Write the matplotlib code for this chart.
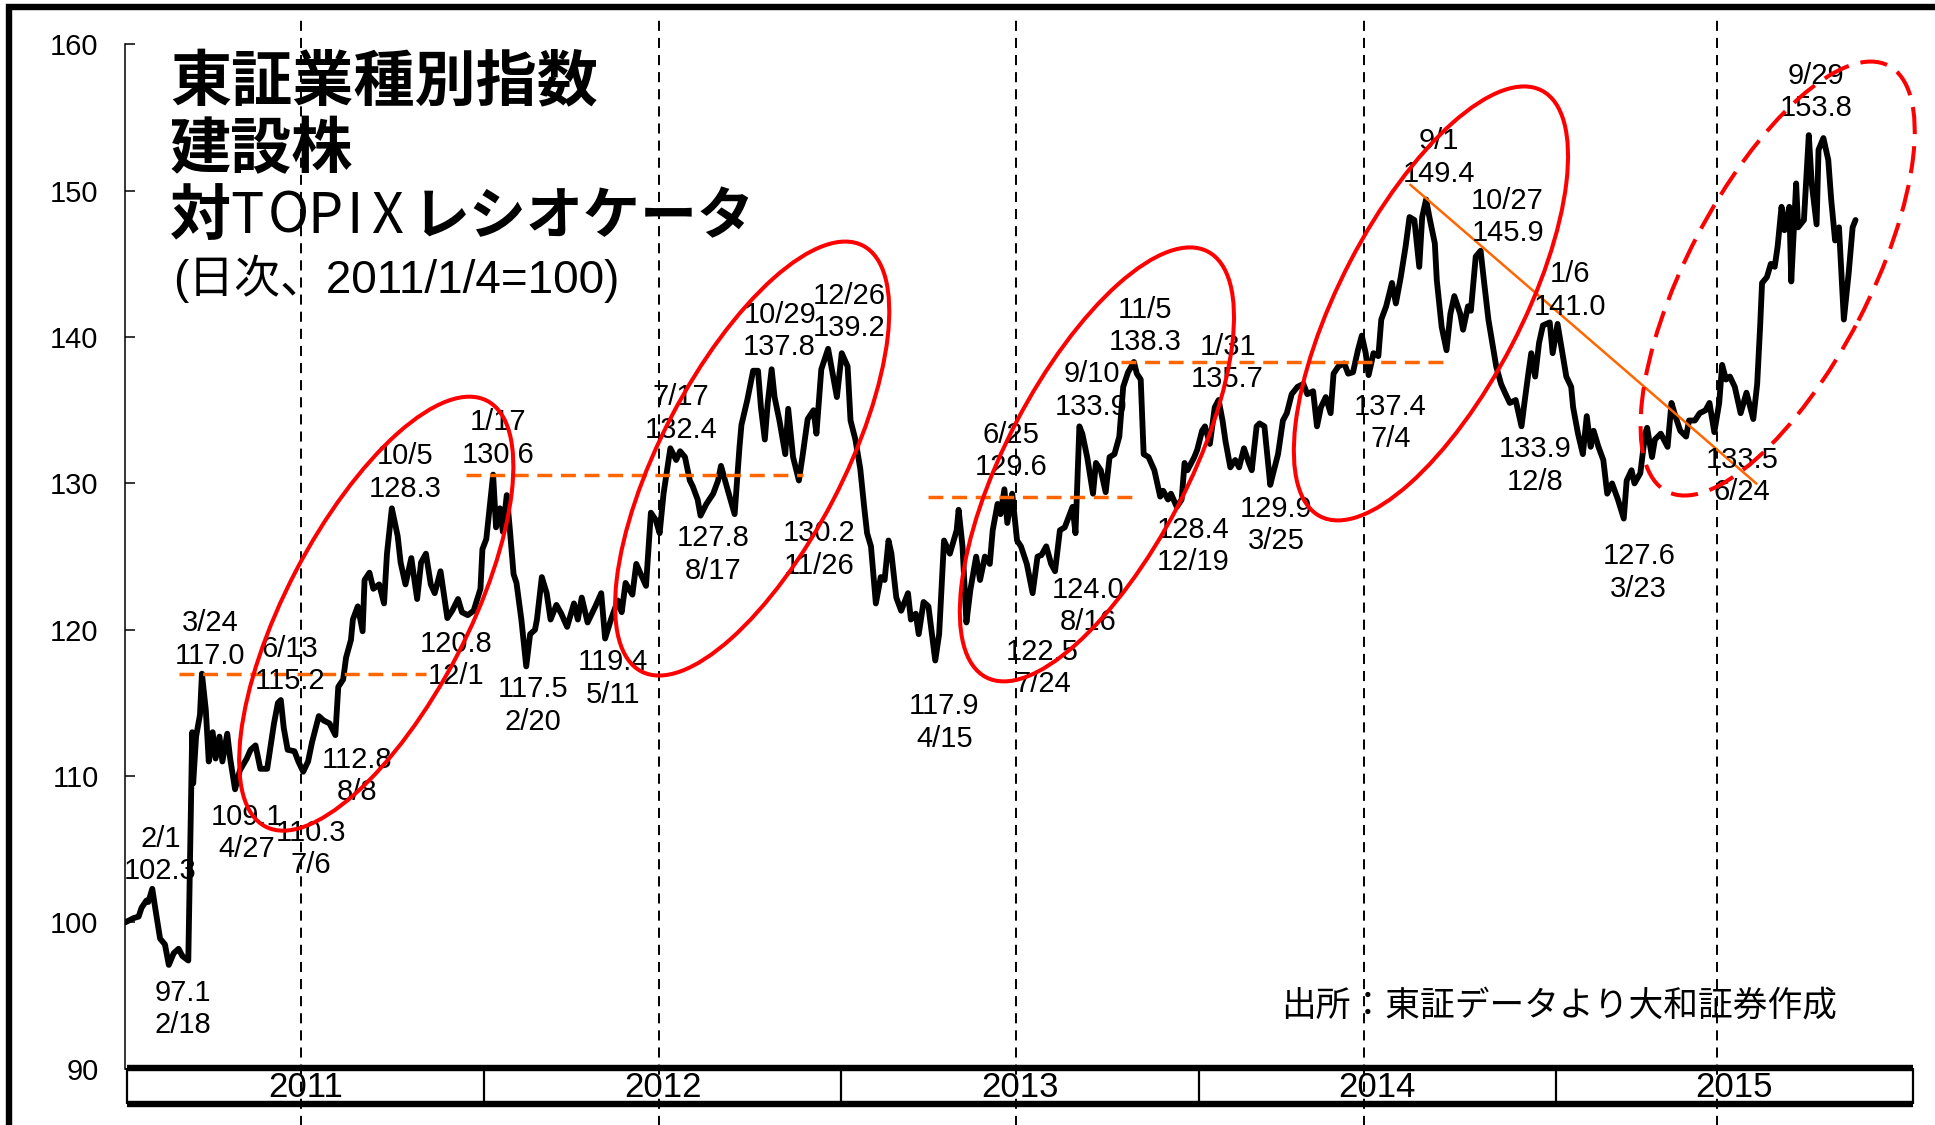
import matplotlib
matplotlib.use("Agg")
import matplotlib.pyplot as plt
import matplotlib.dates as mdates
from matplotlib.patches import Ellipse, Rectangle
from matplotlib.transforms import ScaledTranslation
import pandas as pd

W, H, DPI = 1935, 1125, 100

plt.rcParams['font.family'] = ['Liberation Sans', 'Noto Sans CJK JP', 'DejaVu Sans']

# ---------------------------------------------------------------------------
# Construction sector index relative to TOPIX (2011/1/4 = 100)
# ---------------------------------------------------------------------------
dates = [
    "2011-01-04", "2011-01-13", "2011-01-18", "2011-01-21", "2011-01-26", "2011-01-28",
    "2011-02-01", "2011-02-04", "2011-02-09", "2011-02-14", "2011-02-18", "2011-02-23",
    "2011-02-28", "2011-03-04", "2011-03-10", "2011-03-14", "2011-03-15", "2011-03-18",
    "2011-03-22", "2011-03-24", "2011-03-28", "2011-03-31", "2011-04-04", "2011-04-07",
    "2011-04-11", "2011-04-14", "2011-04-19", "2011-04-22", "2011-04-27", "2011-05-02",
    "2011-05-09", "2011-05-13", "2011-05-18", "2011-05-23", "2011-05-30", "2011-06-06",
    "2011-06-10", "2011-06-13", "2011-06-16", "2011-06-20", "2011-06-27", "2011-07-01",
    "2011-07-06", "2011-07-11", "2011-07-15", "2011-07-22", "2011-07-27", "2011-08-02",
    "2011-08-08", "2011-08-11", "2011-08-16", "2011-08-19", "2011-08-24", "2011-08-26",
    "2011-08-31", "2011-09-05", "2011-09-07", "2011-09-12", "2011-09-16", "2011-09-22",
    "2011-09-27", "2011-09-30", "2011-10-05", "2011-10-11", "2011-10-14", "2011-10-19",
    "2011-10-25", "2011-10-31", "2011-11-04", "2011-11-09", "2011-11-14", "2011-11-18",
    "2011-11-24", "2011-12-01", "2011-12-06", "2011-12-12", "2011-12-16", "2011-12-22",
    "2011-12-28",
    "2012-01-04", "2012-01-06", "2012-01-10", "2012-01-17", "2012-01-20", "2012-01-24",
    "2012-01-27", "2012-01-31", "2012-02-03", "2012-02-07", "2012-02-10", "2012-02-15",
    "2012-02-20", "2012-02-24", "2012-02-29", "2012-03-02", "2012-03-07", "2012-03-12",
    "2012-03-16", "2012-03-22", "2012-03-27", "2012-04-02", "2012-04-09", "2012-04-13",
    "2012-04-17", "2012-04-23", "2012-05-01", "2012-05-07", "2012-05-11", "2012-05-17",
    "2012-05-24", "2012-05-28", "2012-06-01", "2012-06-08", "2012-06-12", "2012-06-18",
    "2012-06-22", "2012-06-27", "2012-07-02", "2012-07-06", "2012-07-10", "2012-07-17",
    "2012-07-23", "2012-07-27", "2012-08-01", "2012-08-06", "2012-08-09", "2012-08-14",
    "2012-08-17", "2012-08-23", "2012-08-30", "2012-09-04", "2012-09-07", "2012-09-12",
    "2012-09-21", "2012-09-26", "2012-09-28", "2012-10-04", "2012-10-10", "2012-10-15",
    "2012-10-18", "2012-10-22", "2012-10-25", "2012-10-29", "2012-11-01", "2012-11-06",
    "2012-11-12", "2012-11-15", "2012-11-20", "2012-11-26", "2012-11-30", "2012-12-05",
    "2012-12-11", "2012-12-14", "2012-12-19", "2012-12-26",
    "2013-01-04", "2013-01-09", "2013-01-15", "2013-01-18", "2013-01-23", "2013-01-28",
    "2013-02-01", "2013-02-04", "2013-02-08", "2013-02-13", "2013-02-18", "2013-02-22",
    "2013-02-26", "2013-03-01", "2013-03-06", "2013-03-11", "2013-03-18", "2013-03-21",
    "2013-03-26", "2013-03-29", "2013-04-03", "2013-04-08", "2013-04-15", "2013-04-19",
    "2013-04-24", "2013-04-30", "2013-05-07", "2013-05-09", "2013-05-13", "2013-05-17",
    "2013-05-21", "2013-05-27", "2013-05-31", "2013-06-05", "2013-06-10", "2013-06-13",
    "2013-06-18", "2013-06-21", "2013-06-25", "2013-06-28", "2013-07-03", "2013-07-08",
    "2013-07-12", "2013-07-18", "2013-07-24", "2013-07-29", "2013-08-02", "2013-08-07",
    "2013-08-12", "2013-08-16", "2013-08-21", "2013-08-26", "2013-08-30", "2013-09-03",
    "2013-09-06", "2013-09-10", "2013-09-13", "2013-09-18", "2013-09-24", "2013-09-27",
    "2013-10-02", "2013-10-07", "2013-10-11", "2013-10-16", "2013-10-21", "2013-10-25",
    "2013-10-30", "2013-11-05", "2013-11-08", "2013-11-12", "2013-11-15", "2013-11-20",
    "2013-11-26", "2013-12-02", "2013-12-05", "2013-12-10", "2013-12-13", "2013-12-19",
    "2013-12-24", "2013-12-27", "2013-12-30",
    "2014-01-06", "2014-01-09", "2014-01-14", "2014-01-17", "2014-01-22", "2014-01-27",
    "2014-01-31", "2014-02-04", "2014-02-07", "2014-02-12", "2014-02-17", "2014-02-21",
    "2014-02-26", "2014-03-03", "2014-03-06", "2014-03-11", "2014-03-14", "2014-03-19",
    "2014-03-25", "2014-03-28", "2014-04-02", "2014-04-07", "2014-04-11", "2014-04-16",
    "2014-04-22", "2014-04-28", "2014-05-02", "2014-05-08", "2014-05-12", "2014-05-16",
    "2014-05-21", "2014-05-26", "2014-05-29", "2014-06-03", "2014-06-09", "2014-06-13",
    "2014-06-18", "2014-06-23", "2014-06-27", "2014-07-01", "2014-07-04", "2014-07-09",
    "2014-07-14", "2014-07-17", "2014-07-22", "2014-07-28", "2014-08-01", "2014-08-06",
    "2014-08-11", "2014-08-15", "2014-08-20", "2014-08-25", "2014-08-28", "2014-09-01",
    "2014-09-05", "2014-09-10", "2014-09-12", "2014-09-17", "2014-09-22", "2014-09-26",
    "2014-09-30", "2014-10-06", "2014-10-09", "2014-10-14", "2014-10-17", "2014-10-22",
    "2014-10-27", "2014-10-30", "2014-11-04", "2014-11-07", "2014-11-12", "2014-11-17",
    "2014-11-21", "2014-11-26", "2014-12-02", "2014-12-08", "2014-12-11", "2014-12-15",
    "2014-12-18", "2014-12-22", "2014-12-26", "2014-12-30",
    "2015-01-06", "2015-01-09", "2015-01-14", "2015-01-19", "2015-01-23", "2015-01-28",
    "2015-01-30", "2015-02-04", "2015-02-09", "2015-02-13", "2015-02-17", "2015-02-20",
    "2015-02-25", "2015-03-02", "2015-03-06", "2015-03-11", "2015-03-17", "2015-03-23",
    "2015-03-26", "2015-03-31", "2015-04-03", "2015-04-09", "2015-04-14", "2015-04-16",
    "2015-04-21", "2015-04-24", "2015-04-30", "2015-05-07", "2015-05-11", "2015-05-15",
    "2015-05-20", "2015-05-26", "2015-05-29", "2015-06-04", "2015-06-09", "2015-06-15",
    "2015-06-19", "2015-06-24", "2015-06-29", "2015-07-02", "2015-07-06", "2015-07-10",
    "2015-07-15", "2015-07-21", "2015-07-27", "2015-08-03", "2015-08-07", "2015-08-10",
    "2015-08-12", "2015-08-17", "2015-08-21", "2015-08-25", "2015-08-28", "2015-09-01",
    "2015-09-04", "2015-09-09", "2015-09-11", "2015-09-16", "2015-09-18", "2015-09-24",
    "2015-09-29", "2015-10-02", "2015-10-07", "2015-10-09", "2015-10-14", "2015-10-19",
    "2015-10-22", "2015-10-26", "2015-10-30", "2015-11-04", "2015-11-09", "2015-11-13",
    "2015-11-16",
]

ratio = [
    100.0, 100.3, 100.4, 101.0, 101.5, 101.4,
    102.3, 101.0, 98.9, 98.5, 97.1, 97.9,
    98.2, 97.7, 97.4, 113.0, 109.5, 112.7,
    114.2, 117.0, 114.5, 111.0, 113.0, 111.2,
    112.7, 111.0, 112.9, 111.2, 109.1, 110.4,
    111.2, 111.8, 112.1, 110.5, 110.5, 113.6,
    115.0, 115.2, 113.3, 111.8, 111.7, 111.0,
    110.3, 111.0, 112.3, 114.1, 113.8, 113.6,
    112.8, 116.1, 116.6, 118.1, 119.3, 120.7,
    121.6, 119.9, 123.4, 123.9, 122.8, 123.1,
    121.8, 125.2, 128.3, 126.4, 124.6, 123.1,
    124.9, 122.1, 124.6, 125.2, 123.1, 122.5,
    124.0, 120.8, 121.3, 122.1, 121.2, 121.0,
    121.3,
    122.8, 125.5, 126.2, 130.6, 127.0, 128.3,
    126.7, 129.2, 127.0, 123.8, 123.2, 120.7,
    117.5, 119.7, 120.0, 120.7, 123.6, 122.5,
    120.7, 121.7, 121.1, 120.2, 121.8, 120.7,
    122.2, 120.5, 121.6, 122.5, 119.4, 120.7,
    122.0, 121.2, 123.2, 122.4, 124.5, 123.6,
    123.0, 128.0, 127.5, 126.6, 129.3, 132.4,
    131.6, 132.2, 131.8, 130.2, 129.8, 128.9,
    127.8, 128.6, 129.3, 130.2, 131.2, 130.0,
    127.9, 132.5, 134.0, 135.7, 137.7, 137.7,
    135.2, 133.0, 135.5, 137.8, 135.9, 134.3,
    132.0, 135.1, 131.8, 130.2, 132.0, 134.4,
    135.0, 133.4, 137.8, 139.2,
    135.9, 138.9, 138.0, 134.3, 133.0, 131.0,
    128.4, 126.6, 125.7, 121.8, 123.6, 123.4,
    126.1, 125.2, 122.2, 121.3, 122.5, 120.7,
    121.1, 119.7, 121.9, 121.6, 117.9, 119.7,
    126.1, 125.2, 126.8, 128.2, 125.7, 120.5,
    122.7, 125.0, 123.4, 125.0, 124.5, 126.8,
    128.6, 127.9, 129.6, 127.3, 129.3, 126.1,
    125.7, 124.5, 122.5, 125.0, 125.1, 125.7,
    124.5, 124.0, 126.8, 127.0, 127.7, 128.4,
    126.6, 133.9, 133.4, 131.8, 129.3, 131.4,
    130.9, 129.4, 131.8, 132.0, 133.2, 136.6,
    137.6, 138.3, 137.5, 137.1, 132.0, 131.8,
    130.9, 129.1, 129.5, 128.9, 129.3, 128.4,
    128.9, 131.4, 130.9,
    131.8, 132.3, 133.6, 133.9, 132.7, 135.2,
    135.7, 134.3, 132.9, 131.1, 131.6, 131.1,
    132.4, 131.4, 130.9, 133.9, 134.1, 133.9,
    129.9, 130.7, 132.0, 134.3, 134.8, 136.1,
    136.6, 136.8, 136.1, 136.3, 133.9, 135.2,
    135.9, 134.8, 137.5, 138.0, 138.2, 137.5,
    137.6, 139.1, 140.1, 138.9, 137.4, 138.9,
    138.7, 141.2, 142.1, 143.7, 142.3, 144.1,
    146.2, 148.2, 148.0, 144.8, 148.2, 149.4,
    148.0, 146.4, 143.9, 140.7, 139.1, 141.6,
    142.8, 141.6, 140.5, 142.1, 141.8, 145.5,
    145.9, 144.1, 141.2, 140.0, 138.0, 136.8,
    136.2, 135.5, 135.7, 133.9, 135.5, 137.5,
    138.9, 137.3, 139.6, 140.8,
    141.0, 138.9, 140.9, 138.9, 137.3, 136.6,
    135.2, 133.4, 132.0, 134.6, 132.5, 133.6,
    132.5, 131.6, 129.3, 130.0, 128.9, 127.6,
    130.2, 130.9, 130.0, 130.7, 133.4, 133.8,
    131.8, 133.0, 133.4, 132.5, 135.5, 134.6,
    133.6, 133.2, 134.3, 134.3, 134.8, 135.0,
    135.5, 133.5, 135.5, 138.1, 137.1, 137.3,
    136.6, 134.8, 136.2, 134.4, 136.8, 140.7,
    143.7, 144.1, 145.0, 144.8, 146.2, 148.9,
    147.3, 148.9, 143.8, 150.5, 147.5, 148.0,
    153.8, 150.5, 147.7, 152.8, 153.6, 152.1,
    149.4, 146.6, 147.5, 141.2, 144.4, 147.5,
    148.0,
]

# Turning points annotated with date and value ("hi" = text above, "lo" = below)
note_dates = [
    "2011-02-01", "2011-02-18", "2011-03-24", "2011-04-27", "2011-06-13", "2011-07-06",
    "2011-08-08", "2011-10-05", "2011-12-01", "2012-01-17", "2012-02-20", "2012-05-11",
    "2012-07-17", "2012-08-17", "2012-10-29", "2012-11-26", "2012-12-26", "2013-04-15",
    "2013-06-25", "2013-07-24", "2013-08-16", "2013-09-10", "2013-11-05", "2013-12-19",
    "2014-01-31", "2014-03-25", "2014-07-04", "2014-09-01", "2014-10-27", "2014-12-08",
    "2015-01-06", "2015-03-23", "2015-06-24", "2015-09-29",
]
note_side = [
    "hi", "lo", "hi", "lo", "hi", "lo",
    "lo", "hi", "lo", "hi", "lo", "lo",
    "hi", "lo", "hi", "lo", "hi", "lo",
    "hi", "lo", "lo", "hi", "hi", "lo",
    "hi", "lo", "lo", "hi", "hi", "lo",
    "hi", "lo", "lo", "hi",
]
# text-block centre relative to the point, in pixels (right, down)
note_offsets = [
    (8, -34), (14, 44), (8, -34), (12, 44), (9, -35), (8, 77),
    (22, 41), (13, -36), (9, 42), (5, -36), (7, 39), (8, 40),
    (11, -35), (13, 39), (8, -38), (20, 69), (21, -37), (9, 62),
    (7, -38), (10, 75), (33, 35), (12, -36), (11, -36), (16, 39),
    (9, -37), (6, 40), (22, 48), (13, -42), (27, -34), (14, 39),
    (20, -32), (15, 54), (28, 44), (7, -43),
]

years = ["2011", "2012", "2013", "2014", "2015"]
y_ticks = [90, 100, 110, 120, 130, 140, 150, 160]

# horizontal support levels (orange dashed)
support_level = [117.0, 130.6, 129.1, 138.3]
support_from = ["2011-02-28", "2011-12-20", "2013-04-08", "2013-10-23"]
support_to = ["2011-11-09", "2012-11-30", "2013-11-07", "2014-09-23"]

# falling trend line from the 2014 peak
trend_dates = ["2014-08-16", "2015-08-06"]
trend_values = [150.4, 130.0]

# mid-year separators
mid_year = ["2011-07-04", "2012-07-05", "2013-07-07", "2014-06-29", "2015-06-27"]

# highlighted up-trend zones: centre (date, value); last one still in progress
zone_dates = ["2011-09-19", "2012-10-09", "2013-09-28", "2014-09-06", "2015-08-28"]
zone_values = [121.1, 131.7, 131.3, 142.3, 144.0]
zone_dashed = [False, False, False, False, True]

ORANGE = "#FF6600"
RED = "#FF0000"


def fx(px):
    return px / W


def fy(py):
    return 1 - py / H


fig = plt.figure(figsize=(W / DPI, H / DPI), dpi=DPI)
fig.patch.set_facecolor("white")

ax = fig.add_axes([fx(125), fy(1068.8), (1913 - 125) / W, (1068.8 - 44.4) / H])
ax.set_facecolor("none")

series = pd.Series(ratio, index=pd.to_datetime(dates))
ax.plot(series.index, series.values, color="black", lw=4.2,
        solid_joinstyle="round", solid_capstyle="round", zorder=3)

ax.set_xlim(pd.Timestamp("2011-01-04"), pd.Timestamp("2016-01-14"))
ax.set_ylim(90, 160)
ax.set_yticks(y_ticks)
ax.set_yticklabels([str(v) for v in y_ticks], fontsize=21)
ax.set_xticks([])
ax.tick_params(axis="y", direction="in", length=7, width=1.1, pad=19)
for side in ("top", "right", "bottom"):
    ax.spines[side].set_visible(False)
ax.spines["left"].set_linewidth(1.1)

# mid-year dashed separators running the full height
for d in mid_year:
    ax.axvline(pd.Timestamp(d), ymin=-0.06, ymax=1.029, color="black", lw=1.4,
               ls=(0, (5.2, 3.6)), clip_on=False, zorder=2)

# support levels
for lvl, d0, d1 in zip(support_level, support_from, support_to):
    ax.hlines(lvl, pd.Timestamp(d0), pd.Timestamp(d1), colors=ORANGE, lw=2.5,
              linestyles=[(0, (4.3, 2.5))], zorder=4)

# trend line
ax.plot(pd.to_datetime(trend_dates), trend_values, color=ORANGE, lw=1.8, zorder=4)

# date / value notes
for d, side, (dx, dy) in zip(note_dates, note_side, note_offsets):
    ts = pd.Timestamp(d)
    v = series.loc[ts]
    md = f"{ts.month}/{ts.day}"
    txt = f"{md}\n{v:.1f}" if side == "hi" else f"{v:.1f}\n{md}"
    ax.annotate(txt, xy=(ts, v), xytext=(dx, -dy), textcoords="offset pixels",
                ha="center", va="center", fontsize=21, linespacing=1.2,
                color="black", zorder=5, annotation_clip=False)

# trend zones (ellipses sized in inches, centred on a data point)
for d, v, dashed in zip(zone_dates, zone_values, zone_dashed):
    xc = mdates.date2num(pd.Timestamp(d))
    trans = fig.dpi_scale_trans + ScaledTranslation(xc, v, ax.transData)
    e = Ellipse((0, 0), width=4.8, height=1.82, angle=62.5, transform=trans,
                fill=False, ec=RED, lw=2.9, zorder=6, clip_on=False,
                ls=(0, (6.75, 3.0)) if dashed else "-")
    ax.add_artist(e)

# year band below the plot
bax = fig.add_axes([fx(127), fy(1104), (1913 - 127) / W, (1104 - 1068) / H])
bax.set_xlim(0, len(years))
bax.set_ylim(0, 1)
bax.axis("off")
bax.hlines([0, 1], 0, len(years), colors="black", lw=4.6, clip_on=False)
bax.vlines(range(len(years) + 1), 0, 1, colors="black", lw=1.6, clip_on=False)
for i, y in enumerate(years):
    bax.text(i + 0.5, 0.45, y, ha="center", va="center", fontsize=25)

# title block
cjk = ["Noto Sans CJK JP", "DejaVu Sans"]
fig.text(fx(170), fy(84), "東証業種別指数", fontsize=44, fontweight="bold",
         family=cjk, va="center", ha="left")
fig.text(fx(170), fy(150), "建設株", fontsize=44, fontweight="bold",
         family=cjk, va="center", ha="left")
fig.text(fx(170), fy(217), "対", fontsize=44, fontweight="bold",
         family=cjk, va="center", ha="left")
for ch, cx in zip("TOPIX", [247, 288, 325, 355, 387]):
    fig.text(fx(cx), fy(217), ch, fontsize=40, family=cjk, va="center", ha="center")
fig.text(fx(413), fy(217), "レシオケータ", fontsize=41, fontweight="bold",
         family=cjk, va="center", ha="left")
fig.text(fx(173), fy(279), "(日次、2011/1/4=100)", fontsize=33,
         family=["Liberation Sans", "Noto Sans CJK JP"], va="center", ha="left")

# source note
fig.text(fx(1281), fy(1006), "出所：東証データより大和証券作成", fontsize=25,
         family=cjk, va="center", ha="left")

# outer frame
fig.add_artist(Rectangle((fx(9), -0.1), 1.2, fy(7) + 0.1, transform=fig.transFigure,
                         fill=False, ec="black", lw=4.6))

fig.savefig("out.png", dpi=DPI)
